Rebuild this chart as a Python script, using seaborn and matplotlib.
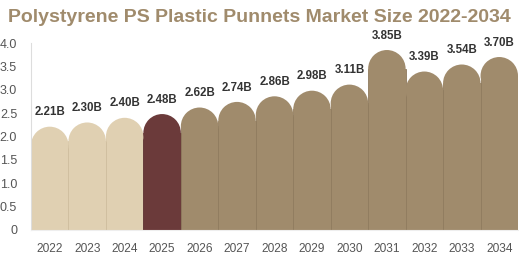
import matplotlib
matplotlib.use("Agg")
import matplotlib.pyplot as plt
import seaborn as sns
import pandas as pd
from matplotlib.patches import Ellipse

years = ["2022", "2023", "2024", "2025", "2026", "2027", "2028", "2029", "2030", "2031", "2032", "2033", "2034"]
values = [2.21, 2.30, 2.40, 2.48, 2.62, 2.74, 2.86, 2.98, 3.11, 3.85, 3.39, 3.54, 3.70]
labels = ["2.21B", "2.30B", "2.40B", "2.48B", "2.62B", "2.74B", "2.86B", "2.98B", "3.11B", "3.85B", "3.39B", "3.54B", "3.70B"]
yticks = [0, 0.5, 1.0, 1.5, 2.0, 2.5, 3.0, 3.5, 4.0]
ytick_labels = ["0", "0.5", "1.0", "1.5", "2.0", "2.5", "3.0", "3.5", "4.0"]

light = "#E0D0B2"
maroon = "#6B3A3A"
taupe = "#A08B6C"
colors = [light] * 3 + [maroon] + [taupe] * 9
edges = ["#CFBE9E"] * 3 + ["#5E3232"] + ["#8F7B5E"] * 9

sns.set_style("white")
plt.rcParams["font.family"] = ["Liberation Sans", "DejaVu Sans"]

W, H = 519, 259
fig = plt.figure(figsize=(W / 100, H / 100), dpi=100)
left, right, bottom, top = 31 / W, 518 / W, (H - 230) / H, (H - 43) / H
ax = fig.add_axes([left, bottom, right - left, top - bottom])

df = pd.DataFrame({"year": years, "value": values})
sns.barplot(data=df, x="year", y="value", hue="year", palette=colors, legend=False,
            width=1.0, saturation=1, ax=ax)

ax.set_xlim(-0.5, len(years) - 0.5)
ax.set_ylim(0, 4.0)

ax_w_px = (right - left) * W
ax_h_px = (top - bottom) * H
px_per_unit = ax_h_px / 4.0
bar_w_px = ax_w_px / len(years)
r_data = (bar_w_px / 2) / px_per_unit

for i, p in enumerate(ax.patches[:len(years)]):
    h = p.get_height()
    x = p.get_x()
    w = p.get_width()
    p.set_height(h - r_data)
    p.set_edgecolor(edges[i])
    p.set_linewidth(0.6)
    e = Ellipse((x + w / 2, h - r_data), w, 2 * r_data, facecolor=colors[i], edgecolor="none", zorder=p.get_zorder() + 0.1)
    ax.add_patch(e)
    ax.annotate(labels[i], (x + w / 2, h), xytext=(0, 6), textcoords="offset points",
                ha="center", va="bottom", fontsize=8.3, fontweight="bold", color="#333333")

ax.set_yticks(yticks)
ax.set_yticklabels(ytick_labels)
ax.tick_params(axis="y", labelsize=9, colors="#555555", length=0, pad=10)
ax.tick_params(axis="x", labelsize=8.6, colors="#555555", length=0, pad=9)
ax.set_xlabel("")
ax.set_ylabel("")
for s in ["top", "right"]:
    ax.spines[s].set_visible(False)
ax.spines["left"].set_color("#DDDDDD")
ax.spines["left"].set_linewidth(0.8)
ax.spines["bottom"].set_color("#EEEEEE")
ax.spines["bottom"].set_linewidth(0.8)

fig.text(0.5, (H - 18) / H, "Polystyrene PS Plastic Punnets Market Size 2022-2034", ha="center", va="center",
         fontsize=14, fontweight="bold", color="#A08B6C")

fig.savefig("out.png", dpi=100)
